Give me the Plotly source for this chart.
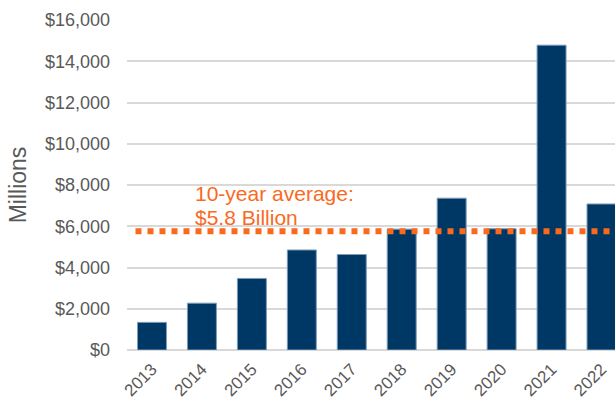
import plotly.graph_objects as go

# Annual values, millions of dollars
years = ["2013", "2014", "2015", "2016", "2017", "2018", "2019", "2020", "2021", "2022"]
values = [1340, 2270, 3470, 4850, 4630, 5860, 7360, 5880, 14780, 7080]

y_ticks = [0, 2000, 4000, 6000, 8000, 10000, 12000, 14000, 16000]
y_tick_text = ["$0", "$2,000", "$4,000", "$6,000", "$8,000", "$10,000", "$12,000", "$14,000", "$16,000"]

average = sum(values) / len(values)

NAVY = "#003865"
ORANGE = "#FA6A1E"
GREY_TEXT = "#595959"
FONT = "Arial, Liberation Sans, sans-serif"

fig = go.Figure()

fig.add_trace(go.Bar(
    x=list(range(len(years))),
    y=values,
    marker=dict(color=NAVY, line=dict(color="#7f9bb8", width=1)),
    width=0.58,
    hoverinfo="skip",
))

# Ten-year average line
fig.add_trace(go.Scatter(
    x=[-0.33, 9.6],
    y=[average, average],
    mode="lines",
    line=dict(color=ORANGE, width=6, dash="6px,6px"),
    hoverinfo="skip",
))

# Two-line label above the average line
label_lines = ["10-year average:", f"${average / 1000:.1f} Billion"]
for text, shift in zip(label_lines, [38, 14]):
    fig.add_annotation(
        x=0.83, y=average,
        xref="x", yref="y",
        xanchor="left", yanchor="middle",
        yshift=shift,
        showarrow=False,
        text=text,
        font=dict(family=FONT, size=21, color=ORANGE),
    )

fig.update_layout(
    width=615, height=403,
    margin=dict(l=127, r=0, t=20, b=53),
    paper_bgcolor="white",
    plot_bgcolor="white",
    showlegend=False,
    font=dict(family=FONT, color=GREY_TEXT),
)

fig.update_xaxes(
    range=[-0.5, 9.27],
    tickmode="array",
    tickvals=list(range(len(years))),
    ticktext=years,
    tickangle=-45,
    tickfont=dict(family=FONT, size=17, color=GREY_TEXT),
    ticklabelstandoff=5,
    automargin=False,
    showgrid=False,
    zeroline=False,
    showline=False,
    ticks="",
)

fig.update_yaxes(
    range=[0, 16000],
    tickmode="array",
    tickvals=y_ticks,
    ticktext=y_tick_text,
    tickfont=dict(family=FONT, size=18, color=GREY_TEXT),
    showgrid=True,
    gridcolor="#d9d9d9",
    gridwidth=1.5,
    zeroline=True,
    zerolinecolor="#d9d9d9",
    zerolinewidth=1.5,
    ticks="",
    ticklabelstandoff=16,
    automargin=False,
    title=dict(text="Millions", font=dict(family=FONT, size=23, color=GREY_TEXT), standoff=11),
)

fig.write_html("out.html")
